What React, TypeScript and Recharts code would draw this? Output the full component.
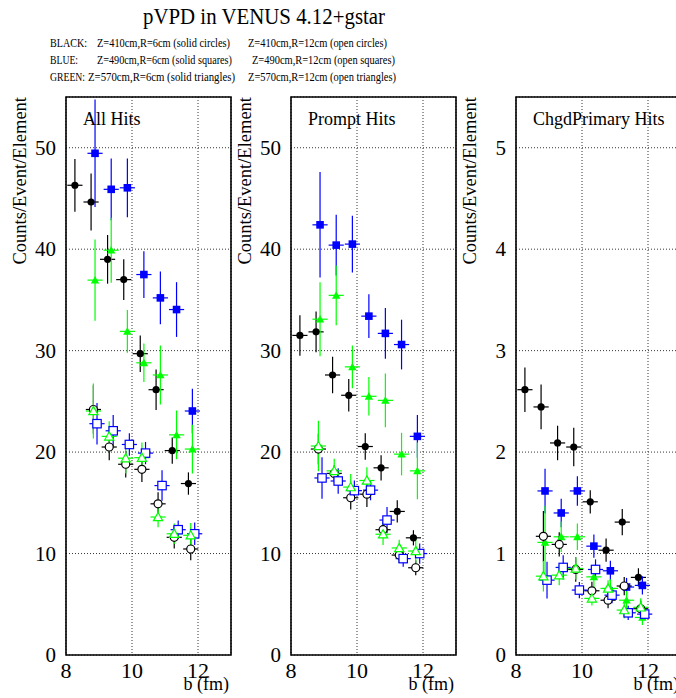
import React from "react";
import { ScatterChart, Scatter, XAxis, YAxis, ErrorBar, CartesianGrid, ReferenceArea } from "recharts";

const SERIF = "'Liberation Serif', 'Times New Roman', serif";

// b (fm) positions, read per marker type (each type is drawn slightly shifted)
const xSolidBlack = [8.27, 8.76, 9.26, 9.75, 10.25, 10.73, 11.22, 11.71];
const xOpenBlack = [8.83, 9.31, 9.81, 10.3, 10.79, 11.28, 11.78];
const xSolidColor = [8.88, 9.37, 9.86, 10.36, 10.86, 11.35, 11.83];
const xOpenBlue = [8.94, 9.43, 9.92, 10.41, 10.91, 11.4, 11.9];
const xErr = 0.23;

const xTicks = [8, 10, 12];

// All Hits
const allBlackSolid = [46.3, 44.65, 39.0, 37.0, 29.7, 26.15, 20.15, 16.9];
const allBlackSolidErr = [2.6, 2.8, 2.4, 2.0, 1.8, 2.0, 1.3, 1.1];
const allBlueSolid = [49.45, 45.9, 46.05, 37.5, 35.2, 34.05, 24.05];
const allBlueSolidErr = [5.3, 3.05, 2.9, 2.3, 2.6, 2.7, 2.2];
const allGreenSolid = [36.95, 39.9, 31.9, 28.8, 27.6, 21.7, 20.3];
const allGreenSolidErr = [4.0, 3.2, 2.1, 1.9, 2.9, 2.4, 2.4];
const allBlackOpen = [24.2, 20.5, 18.8, 18.3, 14.9, 11.6, 10.45];
const allBlackOpenErr = [2.4, 1.3, 1.3, 1.25, 1.15, 1.1, 1.1];
const allBlueOpen = [22.8, 22.1, 20.75, 19.9, 16.7, 12.35, 11.95];
const allBlueOpenErr = [2.05, 1.55, 1.1, 1.1, 1.5, 0.9, 1.1];
const allGreenOpen = [24.05, 21.55, 19.4, 19.45, 13.6, 11.95, 11.8];
const allGreenOpenErr = [2.7, 1.5, 1.5, 1.5, 1.0, 1.0, 1.2];

// Prompt Hits
const prBlackSolid = [31.5, 31.85, 27.6, 25.6, 20.55, 18.45, 14.15, 11.55];
const prBlackSolidErr = [2.0, 2.0, 1.8, 1.6, 1.3, 1.25, 1.1, 0.75];
const prBlueSolid = [42.4, 40.4, 40.5, 33.4, 31.7, 30.6, 21.55];
const prBlueSolidErr = [5.2, 3.0, 2.8, 2.15, 2.5, 2.45, 2.1];
const prGreenSolid = [33.1, 35.45, 28.4, 25.5, 25.1, 19.8, 18.15];
const prGreenSolidErr = [3.65, 2.95, 2.1, 1.9, 2.65, 2.1, 2.8];
const prBlackOpen = [20.3, 17.9, 15.5, 15.85, 12.35, 9.85, 8.6];
const prBlackOpenErr = [1.5, 0.8, 1.15, 1.25, 0.75, 0.75, 0.75];
const prBlueOpen = [17.45, 17.15, 16.2, 16.25, 13.3, 9.5, 10.0];
const prBlueOpenErr = [2.05, 1.25, 1.0, 1.0, 1.3, 0.8, 1.0];
const prGreenOpen = [20.6, 18.15, 16.55, 17.2, 11.9, 10.55, 10.25];
const prGreenOpenErr = [2.5, 1.2, 1.3, 1.3, 1.05, 0.8, 1.15];

// ChgdPrimary Hits
const chBlackSolid = [2.615, 2.445, 2.09, 2.05, 1.51, 1.033, 1.31, 0.765];
const chBlackSolidErr = [0.22, 0.22, 0.17, 0.19, 0.115, 0.115, 0.13, 0.09];
const chBlueSolid = [1.617, 1.4, 1.617, 1.073, 0.83, 0.67, 0.686];
const chBlueSolidErr = [0.22, 0.14, 0.145, 0.115, 0.1, 0.09, 0.09];
const chGreenSolid = [1.11, 1.165, 1.165, 0.77, 0.656, 0.54, 0.37];
const chGreenSolidErr = [0.36, 0.15, 0.13, 0.12, 0.09, 0.09, 0.075];
const chBlackOpen = [1.17, 1.09, 0.843, 0.633, 0.54, 0.68, 0.456];
const chBlackOpenErr = [0.25, 0.12, 0.12, 0.09, 0.08, 0.09, 0.08];
const chBlueOpen = [0.738, 0.863, 0.64, 0.843, 0.59, 0.416, 0.403];
const chBlueOpenErr = [0.18, 0.12, 0.08, 0.1, 0.08, 0.07, 0.06];
const chGreenOpen = [0.777, 0.787, 0.853, 0.558, 0.656, 0.443, 0.47];
const chGreenOpenErr = [0.15, 0.1, 0.11, 0.07, 0.08, 0.08, 0.09];

const BLACK = "#000000";
const BLUE = "#0000ff";
const GREEN = "#00ff00";

type Pt = { x: number; y: number; ey: number; ex: number };
const pts = (xs: number[], ys: number[], es: number[]): Pt[] =>
  xs.map((x, i) => ({ x, y: ys[i], ey: es[i], ex: xErr }));

type Kind = "circle" | "square" | "triangle";

const marker = (kind: Kind, color: string, open: boolean) => (p: any) => {
  const { cx, cy } = p;
  if (cx == null || cy == null) return <g />;
  const fill = open ? "#ffffff" : color;
  const sw = open ? 1.2 : 0;
  if (kind === "circle") return <circle cx={cx} cy={cy} r={open ? 4 : 3.6} fill={fill} stroke={color} strokeWidth={sw} />;
  if (kind === "square") {
    const h = open ? 4.2 : 3.8;
    return <rect x={cx - h} y={cy - h} width={2 * h} height={2 * h} fill={fill} stroke={color} strokeWidth={sw} />;
  }
  const s = open ? 4.6 : 4.2;
  return (
    <path
      d={`M${cx},${cy - s} L${cx + s},${cy + s * 0.8} L${cx - s},${cy + s * 0.8} Z`}
      fill={fill}
      stroke={color}
      strokeWidth={sw}
    />
  );
};

const YTick = (p: any) => (
  <text x={p.x} y={p.y} dy={7} textAnchor="end" fontFamily={SERIF} fontSize={21} fill="#000">
    {p.payload.value}
  </text>
);

const XTick = (p: any) => (
  <text x={p.x} y={p.y} dy={17} textAnchor="middle" fontFamily={SERIF} fontSize={22} fill="#000">
    {p.payload.value}
  </text>
);

type Series = { data: Pt[]; color: string; kind: Kind; open: boolean; name: string };

type PanelProps = {
  left: number;
  yMax: number;
  yMajor: number[];
  yMinor: number[];
  series: Series[];
};

function Panel({ left, yMax, yMajor, yMinor, series }: PanelProps) {
  return (
    <div style={{ position: "absolute", left, top: 0 }}>
      <ScatterChart width={241} height={698} margin={{ top: 97, right: 10, bottom: 13, left: 0 }}>
        <CartesianGrid stroke="#000" strokeDasharray="1 2" strokeWidth={0.8} />
        <XAxis
          type="number"
          dataKey="x"
          domain={[8, 13]}
          ticks={xTicks}
          interval={0}
          allowDataOverflow
          axisLine={false}
          tickLine={false}
          tickSize={0}
          tickMargin={6}
          height={30}
          tick={XTick}
        />
        <XAxis
          xAxisId="maj"
          type="number"
          domain={[8, 13]}
          ticks={[10, 12]}
          interval={0}
          orientation="bottom"
          mirror
          height={0}
          axisLine={false}
          tick={false}
          tickSize={10}
          tickLine={{ stroke: "#000", strokeWidth: 1.2 }}
        />
        <YAxis
          type="number"
          dataKey="y"
          domain={[0, yMax]}
          ticks={yMajor}
          interval={0}
          allowDataOverflow
          axisLine={false}
          tickLine={false}
          tickSize={0}
          tickMargin={10}
          width={66}
          tick={YTick}
        />
        <YAxis
          yAxisId="maj"
          type="number"
          domain={[0, yMax]}
          ticks={yMajor}
          interval={0}
          mirror
          width={0}
          axisLine={false}
          tick={false}
          tickSize={10}
          tickLine={{ stroke: "#000", strokeWidth: 1.2 }}
        />
        <YAxis
          yAxisId="min"
          type="number"
          domain={[0, yMax]}
          ticks={yMinor}
          interval={0}
          mirror
          width={0}
          axisLine={false}
          tick={false}
          tickSize={5}
          tickLine={{ stroke: "#000", strokeWidth: 1.2 }}
        />
        {series.map((s) => (
          <Scatter
            key={s.name}
            name={s.name}
            data={s.data}
            isAnimationActive={false}
            shape={marker(s.kind, s.color, s.open)}
          >
            <ErrorBar dataKey="ey" direction="y" width={0} stroke={s.color} strokeWidth={1.2} isAnimationActive={false} />
            <ErrorBar dataKey="ex" direction="x" width={0} stroke={s.color} strokeWidth={1.2} isAnimationActive={false} />
          </Scatter>
        ))}
        <ReferenceArea x1={8} x2={13} y1={0} y2={yMax} fill="none" stroke="#000" strokeWidth={1.6} ifOverflow="visible" />
      </ScatterChart>
    </div>
  );
}

const build = (
  bs: number[], bsE: number[], us: number[], usE: number[], gs: number[], gsE: number[],
  bo: number[], boE: number[], uo: number[], uoE: number[], go: number[], goE: number[]
): Series[] => [
  { name: "black-solid", data: pts(xSolidBlack, bs, bsE), color: BLACK, kind: "circle", open: false },
  { name: "blue-solid", data: pts(xSolidColor, us, usE), color: BLUE, kind: "square", open: false },
  { name: "green-solid", data: pts(xSolidColor, gs, gsE), color: GREEN, kind: "triangle", open: false },
  { name: "black-open", data: pts(xOpenBlack, bo, boE), color: BLACK, kind: "circle", open: true },
  { name: "blue-open", data: pts(xOpenBlue, uo, uoE), color: BLUE, kind: "square", open: true },
  { name: "green-open", data: pts(xOpenBlack, go, goE), color: GREEN, kind: "triangle", open: true },
];

const bigMajor = [0, 10, 20, 30, 40, 50];
const bigMinor = [2, 4, 6, 8, 12, 14, 16, 18, 22, 24, 26, 28, 32, 34, 36, 38, 42, 44, 46, 48, 52, 54];
const smallMajor = [0, 1, 2, 3, 4, 5];
const smallMinor = [0.2, 0.4, 0.6, 0.8, 1.2, 1.4, 1.6, 1.8, 2.2, 2.4, 2.6, 2.8, 3.2, 3.4, 3.6, 3.8, 4.2, 4.4, 4.6, 4.8, 5.2, 5.4];

const panelLabels = ["All Hits", "Prompt Hits", "ChgdPrimary Hits"];
const legendRows = [
  ["BLACK:", "Z=410cm,R=6cm (solid circles)", "Z=410cm,R=12cm (open circles)"],
  ["BLUE:", "Z=490cm,R=6cm (solid squares)", "Z=490cm,R=12cm (open squares)"],
  ["GREEN:", "Z=570cm,R=6cm (solid triangles)", "Z=570cm,R=12cm (open triangles)"],
];
const legendX = [
  [50, 97, 248],
  [50, 97, 252],
  [50, 88, 248],
];
const legendW = [
  [37, 133, 139],
  [28, 135, 143],
  [35, 147, 148],
];

export default function App() {
  const panels = [
    build(allBlackSolid, allBlackSolidErr, allBlueSolid, allBlueSolidErr, allGreenSolid, allGreenSolidErr,
      allBlackOpen, allBlackOpenErr, allBlueOpen, allBlueOpenErr, allGreenOpen, allGreenOpenErr),
    build(prBlackSolid, prBlackSolidErr, prBlueSolid, prBlueSolidErr, prGreenSolid, prGreenSolidErr,
      prBlackOpen, prBlackOpenErr, prBlueOpen, prBlueOpenErr, prGreenOpen, prGreenOpenErr),
    build(chBlackSolid, chBlackSolidErr, chBlueSolid, chBlueSolidErr, chGreenSolid, chGreenSolidErr,
      chBlackOpen, chBlackOpenErr, chBlueOpen, chBlueOpenErr, chGreenOpen, chGreenOpenErr),
  ];

  return (
    <div style={{ position: "absolute", left: 0, top: 0, width: 676, height: 698, overflow: "hidden", background: "#fff" }}>
      <Panel left={0} yMax={55} yMajor={bigMajor} yMinor={bigMinor} series={panels[0]} />
      <Panel left={225} yMax={55} yMajor={bigMajor} yMinor={bigMinor} series={panels[1]} />
      <Panel left={450} yMax={5.5} yMajor={smallMajor} yMinor={smallMinor} series={panels[2]} />

      <svg width={676} height={698} style={{ position: "absolute", left: 0, top: 0, pointerEvents: "none" }}>
        <text
          x={143}
          y={24}
          textLength={242}
          lengthAdjust="spacingAndGlyphs"
          fontFamily={SERIF}
          fontSize={23}
          fill="#000"
        >
          pVPD in VENUS 4.12+gstar
        </text>
        {legendRows.map((row, r) =>
          row.map((t, c) => (
            <text
              key={`${r}-${c}`}
              x={legendX[r][c]}
              y={47 + r * 17}
              textLength={legendW[r][c]}
              lengthAdjust="spacingAndGlyphs"
              fontFamily={SERIF}
              fontSize={12.5}
              fill="#000"
            >
              {t}
            </text>
          ))
        )}
        {panelLabels.map((lab, i) => (
          <g key={lab}>
            <text x={83 + i * 225} y={125} fontFamily={SERIF} fontSize={18} fill="#000">
              {lab}
            </text>
            <text
              x={26 + i * 225}
              y={97}
              transform={`rotate(-90 ${26 + i * 225} 97)`}
              textAnchor="end"
              fontFamily={SERIF}
              fontSize={18.5}
              fill="#000"
            >
              Counts/Event/Element
            </text>
            <text x={229 + i * 225} y={690} textAnchor="end" fontFamily={SERIF} fontSize={18} fill="#000">
              b (fm)
            </text>
          </g>
        ))}
      </svg>
    </div>
  );
}
